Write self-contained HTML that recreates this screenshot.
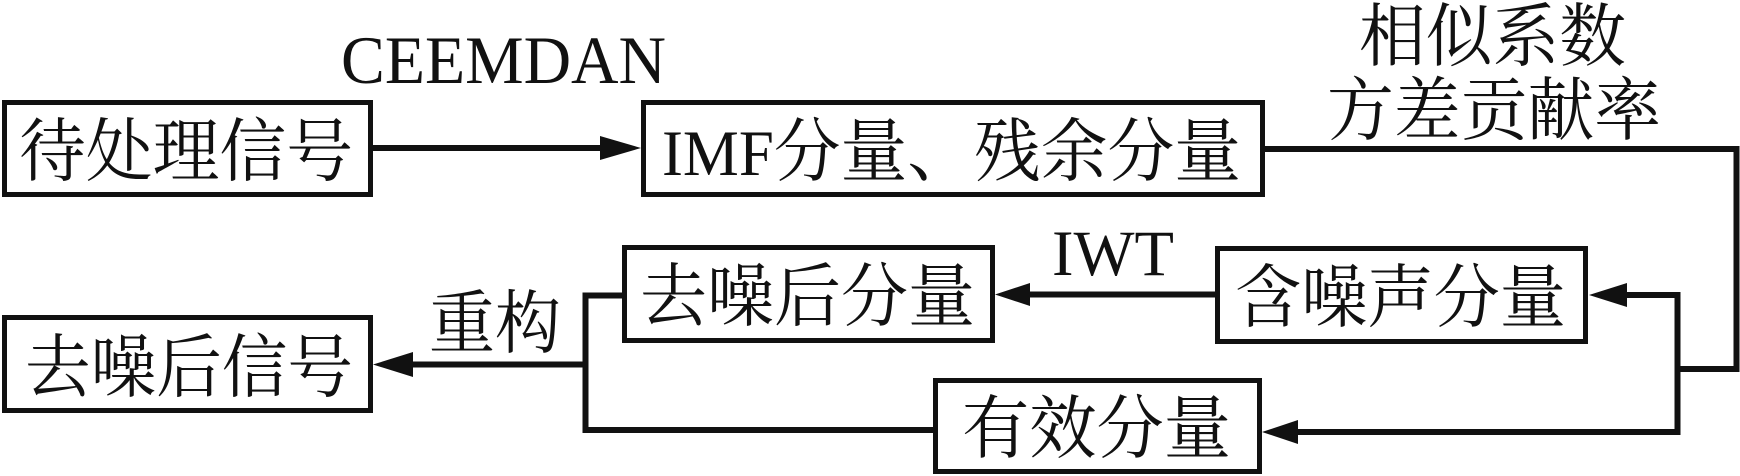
<!DOCTYPE html>
<html>
<head>
<meta charset="utf-8">
<style>
html,body{margin:0;padding:0;background:#fff;}
svg{display:block;}
.cjk{font-family:"Liberation Serif","Noto Serif CJK SC","Noto Sans CJK SC",serif;font-size:69px;fill:#111;}
.lat{font-family:"Liberation Serif",serif;fill:#111;}
</style>
</head>
<body>
<svg width="1740" height="476" viewBox="0 0 1740 476" xmlns="http://www.w3.org/2000/svg">
  <rect width="1740" height="476" fill="#fff"/>
  <g fill="none" stroke="#111" stroke-width="5">
    <rect x="4.5" y="102.5" width="366" height="92"/>
    <rect x="643.5" y="102.5" width="619" height="92"/>
    <rect x="624.5" y="247.5" width="368" height="93"/>
    <rect x="1217.5" y="248.5" width="368" height="93"/>
    <rect x="4.5" y="317.5" width="366" height="93"/>
    <rect x="935.5" y="380.5" width="324" height="91"/>
  </g>
  <g fill="none" stroke="#111" stroke-width="6" stroke-linecap="square">
    <line x1="373" y1="148" x2="602" y2="148"/>
    <polyline points="1265,149 1736.5,149 1736.5,369 1677.5,369" stroke-linecap="butt"/>
    <line x1="1677.5" y1="295" x2="1677.5" y2="432"/>
    <line x1="1677.5" y1="295" x2="1626" y2="295"/>
    <line x1="1677.5" y1="432" x2="1297" y2="432"/>
    <line x1="1216" y1="294.5" x2="1029" y2="294.5"/>
    <line x1="623" y1="295.5" x2="585.5" y2="295.5"/>
    <line x1="585.5" y1="295.5" x2="585.5" y2="430"/>
    <line x1="585.5" y1="430" x2="934" y2="430"/>
    <line x1="585.5" y1="364.5" x2="412" y2="364.5"/>
  </g>
  <g fill="#111">
    <polygon points="600,136 641,148 600,160"/>
    <polygon points="1627,283 1589,295 1627,307"/>
    <polygon points="1298,420 1262,432 1298,444"/>
    <polygon points="1030,283 995,294.5 1030,306"/>
    <polygon points="413,352 373,364.5 413,377"/>
  </g>
  <text class="lat" x="341" y="83" font-size="68" textLength="325" lengthAdjust="spacingAndGlyphs">CEEMDAN</text>
  <text class="lat" x="1052" y="275" font-size="65" textLength="122" lengthAdjust="spacingAndGlyphs">IWT</text>

  <text class="cjk" x="19" y="175" textLength="334" lengthAdjust="spacingAndGlyphs">待处理信号</text>
  <text class="cjk" x="662" y="175" textLength="579" lengthAdjust="spacingAndGlyphs"><tspan font-family="Liberation Serif" font-size="65">IMF</tspan>分量、残余分量</text>
  <text class="cjk" x="1359" y="60" textLength="267" lengthAdjust="spacingAndGlyphs">相似系数</text>
  <text class="cjk" x="1327" y="134" textLength="334" lengthAdjust="spacingAndGlyphs">方差贡献率</text>
  <text class="cjk" x="640" y="320" textLength="335" lengthAdjust="spacingAndGlyphs">去噪后分量</text>
  <text class="cjk" x="1235" y="321" textLength="331" lengthAdjust="spacingAndGlyphs">含噪声分量</text>
  <text class="cjk" x="429" y="347" textLength="132" lengthAdjust="spacingAndGlyphs">重构</text>
  <text class="cjk" x="25" y="391" textLength="328" lengthAdjust="spacingAndGlyphs">去噪后信号</text>
  <text class="cjk" x="962" y="452" textLength="269" lengthAdjust="spacingAndGlyphs">有效分量</text>
</svg>
</body>
</html>
